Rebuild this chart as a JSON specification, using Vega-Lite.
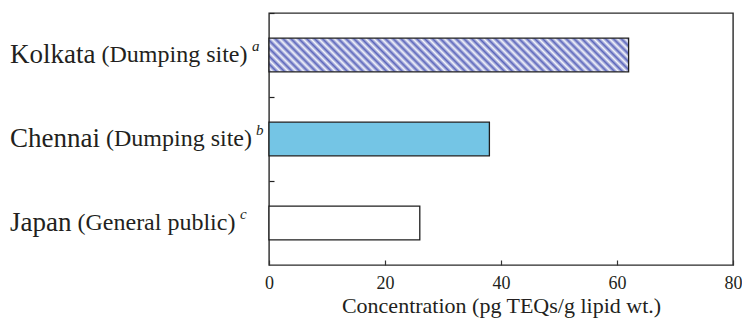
{
  "$schema": "https://vega.github.io/schema/vega-lite/v6.json",
  "width": 464,
  "height": 252,
  "padding": {"left": 9, "right": 0, "top": 12, "bottom": 3},
  "background": "white",
  "config": {
    "font": "Times New Roman, Liberation Serif, serif",
    "view": {"stroke": "#2a2a2a", "strokeWidth": 1.4},
    "axis": {
      "labelFont": "Times New Roman, Liberation Serif, serif",
      "titleFont": "Times New Roman, Liberation Serif, serif",
      "labelColor": "#231f20",
      "titleColor": "#231f20",
      "maxExtent": 320,
      "labelLimit": 0
    }
  },
  "data": {
    "values": [
      {"site": "Kolkata", "group": "Dumping site", "ref": "a", "conc": 62},
      {"site": "Chennai", "group": "Dumping site", "ref": "b", "conc": 38},
      {"site": "Japan", "group": "General public", "ref": "c", "conc": 26}
    ]
  },
  "encoding": {
    "x": {
      "field": "conc",
      "type": "quantitative",
      "scale": {"domain": [0, 80], "nice": false},
      "axis": {
        "values": [0, 20, 40, 60, 80],
        "grid": false,
        "domain": false,
        "tickSize": -5,
        "tickColor": "#333333",
        "tickWidth": 1.2,
        "labelFontSize": 18,
        "labelPadding": 14,
        "labelFlush": false,
        "title": "Concentration (pg TEQs/g lipid wt.)",
        "titleFontSize": 22,
        "titleFontWeight": "normal",
        "titlePadding": 3
      }
    }
  },
  "layer": [
    {
      "mark": {"type": "bar", "strokeWidth": 0},
      "encoding": {
        "y": {
          "field": "site",
          "type": "nominal",
          "sort": null,
          "scale": {"paddingInner": 0.6, "paddingOuter": 0.3},
          "axis": {
            "orient": "left",
            "title": null,
            "domain": false,
            "ticks": false,
            "labelAlign": "left",
            "labelBaseline": "middle",
            "labelFontSize": 27,
            "labelPadding": 259.5
          }
        },
        "fill": {
          "condition": {"test": "datum.site === 'Chennai'", "value": "#74c5e5"},
          "value": "#ffffff"
        }
      }
    },
    {
      "transform": [{"filter": "datum.site === 'Kolkata'"}],
      "mark": {
        "type": "bar",
        "strokeWidth": 0,
        "fill": {
          "gradient": "linear",
          "x1": 0, "y1": 1, "x2": 1.0838, "y2": 0.899,
          "stops": [
            {"offset": 0, "color": "#5c66bb"}, {"offset": 0.01, "color": "#f4f5fb"},
            {"offset": 0.02, "color": "#5c66bb"}, {"offset": 0.03, "color": "#f4f5fb"},
            {"offset": 0.04, "color": "#5c66bb"}, {"offset": 0.05, "color": "#f4f5fb"},
            {"offset": 0.06, "color": "#5c66bb"}, {"offset": 0.07, "color": "#f4f5fb"},
            {"offset": 0.08, "color": "#5c66bb"}, {"offset": 0.09, "color": "#f4f5fb"},
            {"offset": 0.10, "color": "#5c66bb"}, {"offset": 0.11, "color": "#f4f5fb"},
            {"offset": 0.12, "color": "#5c66bb"}, {"offset": 0.13, "color": "#f4f5fb"},
            {"offset": 0.14, "color": "#5c66bb"}, {"offset": 0.15, "color": "#f4f5fb"},
            {"offset": 0.16, "color": "#5c66bb"}, {"offset": 0.17, "color": "#f4f5fb"},
            {"offset": 0.18, "color": "#5c66bb"}, {"offset": 0.19, "color": "#f4f5fb"},
            {"offset": 0.20, "color": "#5c66bb"}, {"offset": 0.21, "color": "#f4f5fb"},
            {"offset": 0.22, "color": "#5c66bb"}, {"offset": 0.23, "color": "#f4f5fb"},
            {"offset": 0.24, "color": "#5c66bb"}, {"offset": 0.25, "color": "#f4f5fb"},
            {"offset": 0.26, "color": "#5c66bb"}, {"offset": 0.27, "color": "#f4f5fb"},
            {"offset": 0.28, "color": "#5c66bb"}, {"offset": 0.29, "color": "#f4f5fb"},
            {"offset": 0.30, "color": "#5c66bb"}, {"offset": 0.31, "color": "#f4f5fb"},
            {"offset": 0.32, "color": "#5c66bb"}, {"offset": 0.33, "color": "#f4f5fb"},
            {"offset": 0.34, "color": "#5c66bb"}, {"offset": 0.35, "color": "#f4f5fb"},
            {"offset": 0.36, "color": "#5c66bb"}, {"offset": 0.37, "color": "#f4f5fb"},
            {"offset": 0.38, "color": "#5c66bb"}, {"offset": 0.39, "color": "#f4f5fb"},
            {"offset": 0.40, "color": "#5c66bb"}, {"offset": 0.41, "color": "#f4f5fb"},
            {"offset": 0.42, "color": "#5c66bb"}, {"offset": 0.43, "color": "#f4f5fb"},
            {"offset": 0.44, "color": "#5c66bb"}, {"offset": 0.45, "color": "#f4f5fb"},
            {"offset": 0.46, "color": "#5c66bb"}, {"offset": 0.47, "color": "#f4f5fb"},
            {"offset": 0.48, "color": "#5c66bb"}, {"offset": 0.49, "color": "#f4f5fb"},
            {"offset": 0.50, "color": "#5c66bb"}, {"offset": 0.51, "color": "#f4f5fb"},
            {"offset": 0.52, "color": "#5c66bb"}, {"offset": 0.53, "color": "#f4f5fb"},
            {"offset": 0.54, "color": "#5c66bb"}, {"offset": 0.55, "color": "#f4f5fb"},
            {"offset": 0.56, "color": "#5c66bb"}, {"offset": 0.57, "color": "#f4f5fb"},
            {"offset": 0.58, "color": "#5c66bb"}, {"offset": 0.59, "color": "#f4f5fb"},
            {"offset": 0.60, "color": "#5c66bb"}, {"offset": 0.61, "color": "#f4f5fb"},
            {"offset": 0.62, "color": "#5c66bb"}, {"offset": 0.63, "color": "#f4f5fb"},
            {"offset": 0.64, "color": "#5c66bb"}, {"offset": 0.65, "color": "#f4f5fb"},
            {"offset": 0.66, "color": "#5c66bb"}, {"offset": 0.67, "color": "#f4f5fb"},
            {"offset": 0.68, "color": "#5c66bb"}, {"offset": 0.69, "color": "#f4f5fb"},
            {"offset": 0.70, "color": "#5c66bb"}, {"offset": 0.71, "color": "#f4f5fb"},
            {"offset": 0.72, "color": "#5c66bb"}, {"offset": 0.73, "color": "#f4f5fb"},
            {"offset": 0.74, "color": "#5c66bb"}, {"offset": 0.75, "color": "#f4f5fb"},
            {"offset": 0.76, "color": "#5c66bb"}, {"offset": 0.77, "color": "#f4f5fb"},
            {"offset": 0.78, "color": "#5c66bb"}, {"offset": 0.79, "color": "#f4f5fb"},
            {"offset": 0.80, "color": "#5c66bb"}, {"offset": 0.81, "color": "#f4f5fb"},
            {"offset": 0.82, "color": "#5c66bb"}, {"offset": 0.83, "color": "#f4f5fb"},
            {"offset": 0.84, "color": "#5c66bb"}, {"offset": 0.85, "color": "#f4f5fb"},
            {"offset": 0.86, "color": "#5c66bb"}, {"offset": 0.87, "color": "#f4f5fb"},
            {"offset": 0.88, "color": "#5c66bb"}, {"offset": 0.89, "color": "#f4f5fb"},
            {"offset": 0.90, "color": "#5c66bb"}, {"offset": 0.91, "color": "#f4f5fb"},
            {"offset": 0.92, "color": "#5c66bb"}, {"offset": 0.93, "color": "#f4f5fb"},
            {"offset": 0.94, "color": "#5c66bb"}, {"offset": 0.95, "color": "#f4f5fb"},
            {"offset": 0.96, "color": "#5c66bb"}, {"offset": 0.97, "color": "#f4f5fb"},
            {"offset": 0.98, "color": "#5c66bb"}, {"offset": 0.99, "color": "#f4f5fb"},
            {"offset": 1, "color": "#5c66bb"}
          ]
        }
      },
      "encoding": {
        "y": {
          "field": "site",
          "type": "nominal",
          "sort": null,
          "axis": {
            "orient": "left",
            "title": null,
            "domain": false,
            "ticks": false,
            "labelAlign": "left",
            "labelBaseline": "middle",
            "labelFontSize": 24,
            "labelExpr": "datum.value === 'Japan' ? '(General public)' : '(Dumping site)'",
            "labelPadding": {
              "condition": [
                {"test": "datum.value === 'Kolkata'", "value": 168},
                {"test": "datum.value === 'Chennai'", "value": 163.5}
              ],
              "value": 192
            }
          }
        }
      }
    },
    {
      "mark": {"type": "bar", "fillOpacity": 0, "stroke": "#1e1e1e", "strokeWidth": 1.3},
      "encoding": {
        "y": {
          "field": "site",
          "type": "nominal",
          "sort": null,
          "axis": {
            "orient": "left",
            "title": null,
            "domain": false,
            "ticks": true,
            "bandPosition": -0.75,
            "tickSize": -5,
            "tickColor": "#222222",
            "tickWidth": 1.2,
            "labelAlign": "left",
            "labelBaseline": "middle",
            "labelFontSize": 15,
            "labelFontStyle": "italic",
            "labelOffset": -9,
            "labelExpr": "datum.value === 'Kolkata' ? 'a' : datum.value === 'Chennai' ? 'b' : 'c'",
            "labelPadding": {
              "condition": [
                {"test": "datum.value === 'Kolkata'", "value": 22.5},
                {"test": "datum.value === 'Chennai'", "value": 18.5}
              ],
              "value": 34.5
            }
          }
        }
      }
    }
  ],
  "resolve": {"axis": {"y": "independent"}}
}
